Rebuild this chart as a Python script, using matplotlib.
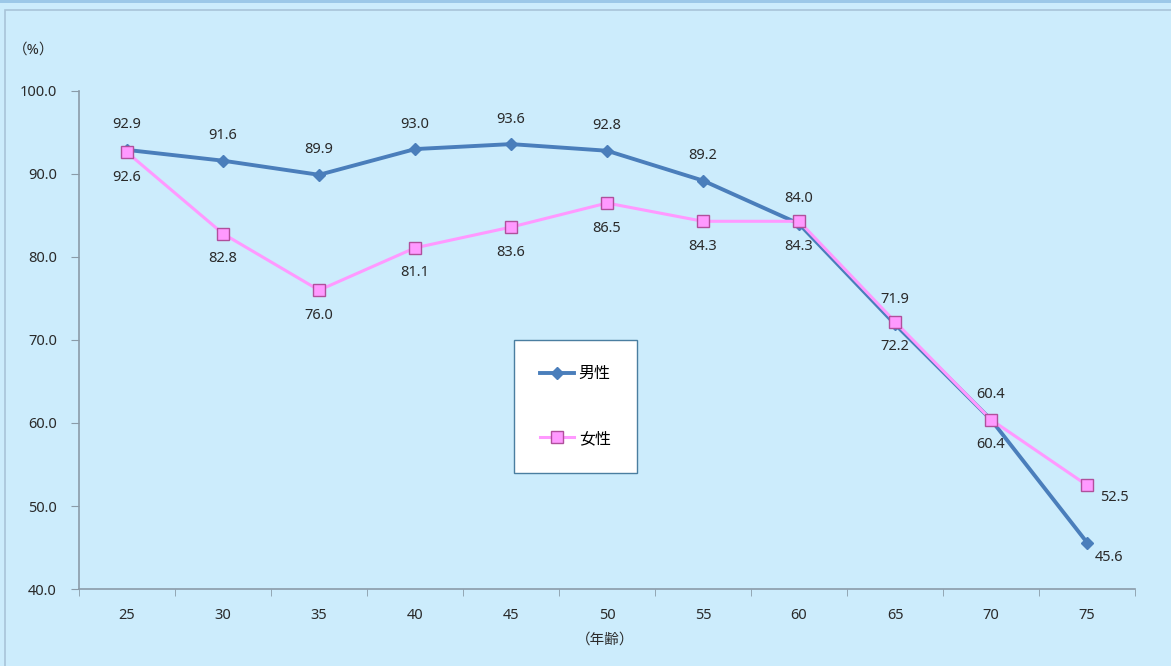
import matplotlib
matplotlib.use('Agg')
import matplotlib.pyplot as plt
from matplotlib.patches import Rectangle

plt.rcParams['font.family'] = ['Noto Sans', 'Noto Sans CJK JP', 'DejaVu Sans']

# Employment rate by age group
ages = ['25', '30', '35', '40', '45', '50', '55', '60', '65', '70', '75']
male = [92.9, 91.6, 89.9, 93.0, 93.6, 92.8, 89.2, 84.0, 71.9, 60.4, 45.6]
female = [92.6, 82.8, 76.0, 81.1, 83.6, 86.5, 84.3, 84.3, 72.2, 60.4, 52.5]

bg = '#CCECFC'
male_color = '#4A7EBB'
female_color = '#FF99FF'
text_color = '#2A2A2A'
axis_color = '#8A9BA8'

fig = plt.figure(figsize=(11.71, 6.66), dpi=100, facecolor=bg)

# outer frame of the chart panel
fig.patches.append(Rectangle((0, 0.995), 1, 0.01, transform=fig.transFigure,
                             facecolor='#9CC8E8', edgecolor='none'))
fig.patches.append(Rectangle((0.0045, -0.01), 1.0, 0.995, transform=fig.transFigure,
                             facecolor='none', edgecolor='#A9C4D8', linewidth=1.2))

ax = fig.add_axes([0.0675, 0.1156, 0.9018, 0.7478])
ax.set_facecolor(bg)

x = list(range(len(ages)))
ax.plot(x, male, color=male_color, linewidth=2.8, marker='D', markersize=6.5,
        markerfacecolor=male_color, markeredgecolor=male_color, label='男性', zorder=3)
ax.plot(x, female, color=female_color, linewidth=2.2, marker='s', markersize=9,
        markerfacecolor=female_color, markeredgecolor='#B0509C', markeredgewidth=1.0,
        label='女性', zorder=4)

# value labels: men above, women below, last point pushed to the right
for i, v in enumerate(male):
    if i == len(male) - 1:
        off = (16, -11)
    else:
        off = (0, 18)
    ax.annotate(f'{v:.1f}', (i, v), xytext=off, textcoords='offset points',
                ha='center', va='center', fontsize=10.5, color=text_color)
for i, v in enumerate(female):
    if i == len(female) - 1:
        off = (20, -9)
    else:
        off = (0, -18)
    ax.annotate(f'{v:.1f}', (i, v), xytext=off, textcoords='offset points',
                ha='center', va='center', fontsize=10.5, color=text_color)

ax.set_xlim(-0.5, len(ages) - 0.5)
ax.set_ylim(40, 100)
ax.set_yticks(range(40, 101, 10))
ax.set_yticklabels([f'{t:.1f}' for t in range(40, 101, 10)])
ax.set_xticks(x)
ax.set_xticklabels(ages)
ax.set_xticks([i - 0.5 for i in range(len(ages) + 1)], minor=True)
ax.tick_params(axis='x', which='major', length=0, pad=14, labelsize=10.5, labelcolor=text_color)
ax.tick_params(axis='x', which='minor', length=5, color=axis_color, direction='out')
ax.tick_params(axis='y', length=6, color=axis_color, pad=10, labelsize=10.5, labelcolor=text_color)

for side in ['top', 'right']:
    ax.spines[side].set_visible(False)
for side in ['left', 'bottom']:
    ax.spines[side].set_color(axis_color)
    ax.spines[side].set_linewidth(1.2)

fig.text(0.029, 0.925, '（%）', fontsize=10.5, color=text_color, ha='center', va='center')
fig.text(0.517, 0.039, '（年齢）', fontsize=10.5, color=text_color, ha='center', va='center')

leg = ax.legend(loc='upper left', bbox_to_anchor=(514 / 1171, 1 - 340 / 666),
                bbox_transform=fig.transFigure, frameon=True, fancybox=False,
                fontsize=11.5, labelspacing=3.05, borderpad=1.65, handlelength=2.1,
                handletextpad=0.3, borderaxespad=0, framealpha=1)
leg.get_frame().set_facecolor('white')
leg.get_frame().set_edgecolor('#4A7EA0')
leg.get_frame().set_linewidth(1.0)

fig.savefig('out.png', dpi=100, facecolor=bg)
